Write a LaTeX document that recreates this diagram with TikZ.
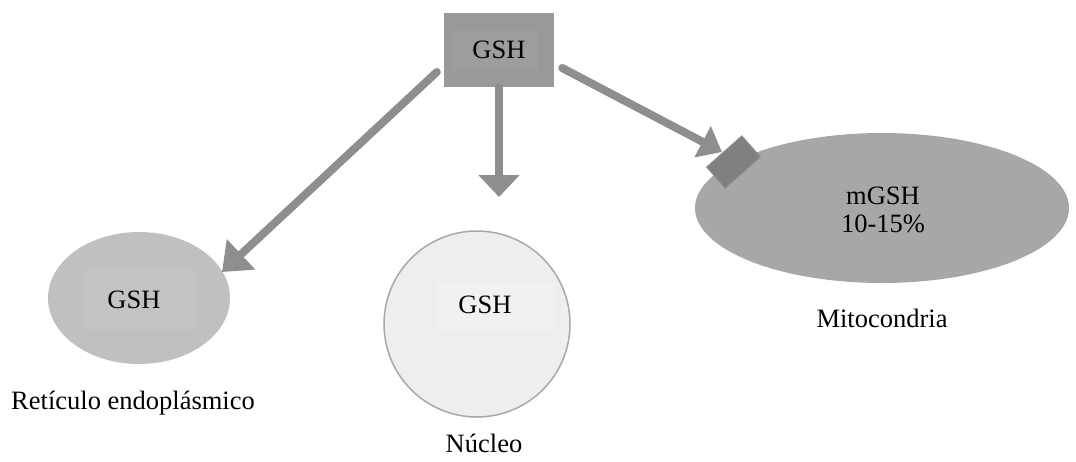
\documentclass[tikz,border=0pt]{standalone}
\usepackage{fontspec}
\setmainfont{Liberation Serif}
\usetikzlibrary{arrows.meta,shapes.geometric,calc}
\definecolor{boxgray}{HTML}{999999}
\definecolor{boxinner}{HTML}{9D9D9D}
\definecolor{ergray}{HTML}{C0C0C0}
\definecolor{erinner}{HTML}{C3C3C3}
\definecolor{nucfill}{HTML}{EEEEEE}
\definecolor{nucinner}{HTML}{F1F1F1}
\definecolor{nucborder}{HTML}{A8A8A8}
\definecolor{mitogray}{HTML}{A7A7A7}
\definecolor{arrowgray}{HTML}{8E8E8E}
\definecolor{portgray}{HTML}{808080}
\definecolor{portborder}{HTML}{8E8E8E}
\begin{document}
\begin{tikzpicture}[x=1pt,y=-1pt,
  every node/.style={font=\fontsize{26.5}{28}\selectfont, inner sep=0pt},
  flow/.style={draw=arrowgray, line width=8pt, line cap=round,
    -{Triangle[width=40pt,length=22pt]}},
  patch/.style={rectangle, draw=none},
  label/.style={text=black}]
\useasboundingbox (0,0) rectangle (1076,461);

% central glutathione pool
\node[patch, fill=boxgray, minimum width=110pt, minimum height=74pt] (gsh) at (499,50) {};
\node[patch, fill=boxinner, minimum width=87pt, minimum height=40pt] (gshin) at (494.5,50) {};
\node (gshtext) at (499,50) {GSH};

% endoplasmic reticulum
\node[ellipse, fill=ergray, minimum width=182pt, minimum height=132pt] (er) at (139,298) {};
\node[patch, fill=erinner, minimum width=110pt, minimum height=62pt] (erin) at (140,299) {};
\node (ertext) at (134,300) {GSH};
\node[label] (erlabel) at (133,403) {Retículo endoplásmico};

% nucleus
\node[circle, fill=nucfill, draw=nucborder, line width=1.5pt, minimum size=186pt] (nuc) at (477,324) {};
\node[patch, fill=nucinner, minimum width=119pt, minimum height=47pt] (nucin) at (496.5,306.5) {};
\node (nuctext) at (485,305) {GSH};
\node[label] (nuclabel) at (484,443) {Núcleo};

% mitochondria
\node[ellipse, fill=mitogray, minimum width=374pt, minimum height=150pt] (mito) at (882,208) {};
\node[align=center] (mitotext) at (883,210) {mGSH\\10-15\%};
\node[label] (mitolabel) at (882,318) {Mitocondria};

% connector ends
\coordinate (lstart) at ($(gsh.west)+(-7,22)$);
\coordinate (ltip) at (222,272);
\coordinate (mtip) at (499,197);
\coordinate (rstart) at ($(gsh.east)+(8,18)$);
\coordinate (rtip) at (722,152);

\draw[flow, -{Triangle[width=40pt,length=26pt]}] (lstart) -- (ltip);
\draw[flow] (gsh.south) -- (mtip);
\draw[flow, -{Triangle[width=34pt,length=22pt]}] (rstart) -- (rtip);

% membrane transporter
\node[patch, fill=portgray, draw=portborder, line width=1pt,
  minimum width=47pt, minimum height=28pt, rotate=41.5] (port) at (733.5,162) {};
\end{tikzpicture}
\end{document}
